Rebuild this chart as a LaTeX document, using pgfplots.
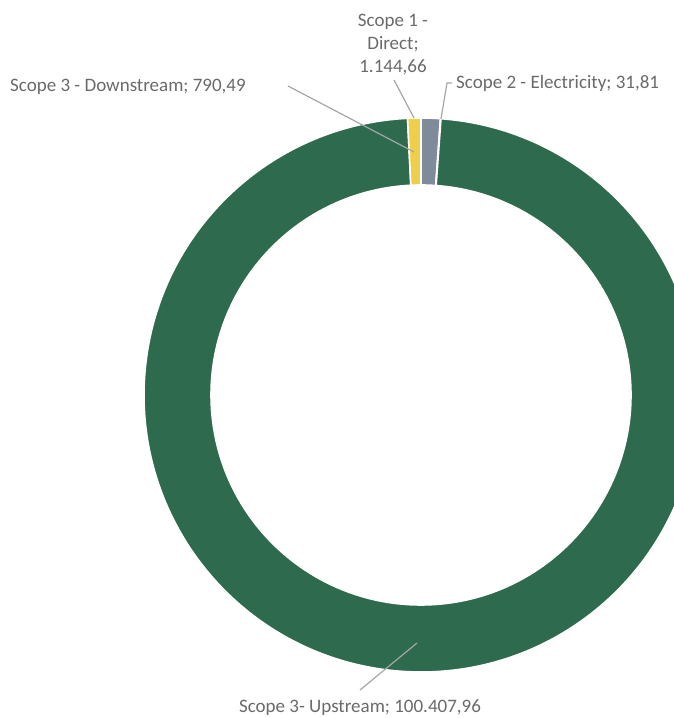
\documentclass[border=0pt]{standalone}
\usepackage{pgfplots}
\usepackage{pgfplotstable}
\pgfplotsset{compat=1.18}
\usepackage{fontspec}
\setmainfont{Carlito}
\definecolor{cGreen}{HTML}{2E6B4E}
\definecolor{cGray}{HTML}{7F8A9A}
\definecolor{cYellow}{HTML}{EFCF4A}
\definecolor{cElec}{HTML}{D9D9D9}
\definecolor{cText}{HTML}{6A6A6A}
\definecolor{cLine}{HTML}{A6A6A6}

\pgfplotstableread{
label value
Direct 1144.66
Electricity 31.81
Upstream 100407.96
Downstream 790.49
}\datatable
\pgfplotstablegetelem{0}{value}\of\datatable \let\vA\pgfplotsretval
\pgfplotstablegetelem{1}{value}\of\datatable \let\vB\pgfplotsretval
\pgfplotstablegetelem{2}{value}\of\datatable \let\vC\pgfplotsretval
\pgfplotstablegetelem{3}{value}\of\datatable \let\vD\pgfplotsretval
\edef\vT{\fpeval{\vA+\vB+\vC+\vD}}
\edef\aS{90}
\edef\aA{\fpeval{90-360*\vA/\vT}}
\edef\aB{\fpeval{\aA-360*\vB/\vT}}
\edef\aC{\fpeval{\aB-360*\vC/\vT}}
\edef\aD{\fpeval{\aC-360*\vD/\vT}}

\newcommand\sector[3]{%
  \fill[#3, draw=white, line width=1.6pt, line join=round]
    (axis cs:421,323) ++(#1:277pt)
    arc[start angle=#1, end angle=#2, radius=277pt]
    -- ++(#2:-67pt)
    arc[start angle=#2, end angle=#1, radius=210pt] -- cycle;}

\begin{document}
\begin{tikzpicture}
\begin{axis}[
  at={(0,0)}, anchor=south west,
  scale only axis, width=674pt, height=718pt,
  xmin=0, xmax=674, ymin=0, ymax=718,
  hide axis, clip=true,
]
\sector{\aS}{\aA}{cGray}
\sector{\aA}{\aB}{cElec}
\sector{\aB}{\aC}{cGreen}
\sector{\aC}{\aD}{cYellow}

% leader lines (y = 718 - pixel y)
\draw[cLine, line width=1.2pt] (axis cs:394,638) -- (axis cs:414,600);
\draw[cLine, line width=1.2pt] (axis cs:452,635) -- (axis cs:447,635) -- (axis cs:441,599);
\draw[cLine, line width=1.2pt] (axis cs:288,632) -- (axis cs:414,566);
\draw[cLine, line width=1.2pt] (axis cs:360,28) -- (axis cs:417,75);

% labels
\node[cText, font=\fontsize{19}{23}\selectfont, align=center, anchor=center]
  at (axis cs:393,673) {Scope 1 -\\Direct;\\1.144,66};
\node[cText, font=\fontsize{19}{23}\selectfont, anchor=west, inner sep=0pt]
  at (axis cs:456,635) {Scope 2 - Electricity; 31,81};
\node[cText, font=\fontsize{19}{23}\selectfont, anchor=west, inner sep=0pt]
  at (axis cs:10,631) {Scope 3 - Downstream; 790,49};
\node[cText, font=\fontsize{19}{23}\selectfont, anchor=center, inner sep=0pt]
  at (axis cs:360,10) {Scope 3- Upstream; 100.407,96};
\end{axis}
\pgfresetboundingbox
\path[use as bounding box] (0,0) rectangle (674pt,718pt);
\end{tikzpicture}
\end{document}
